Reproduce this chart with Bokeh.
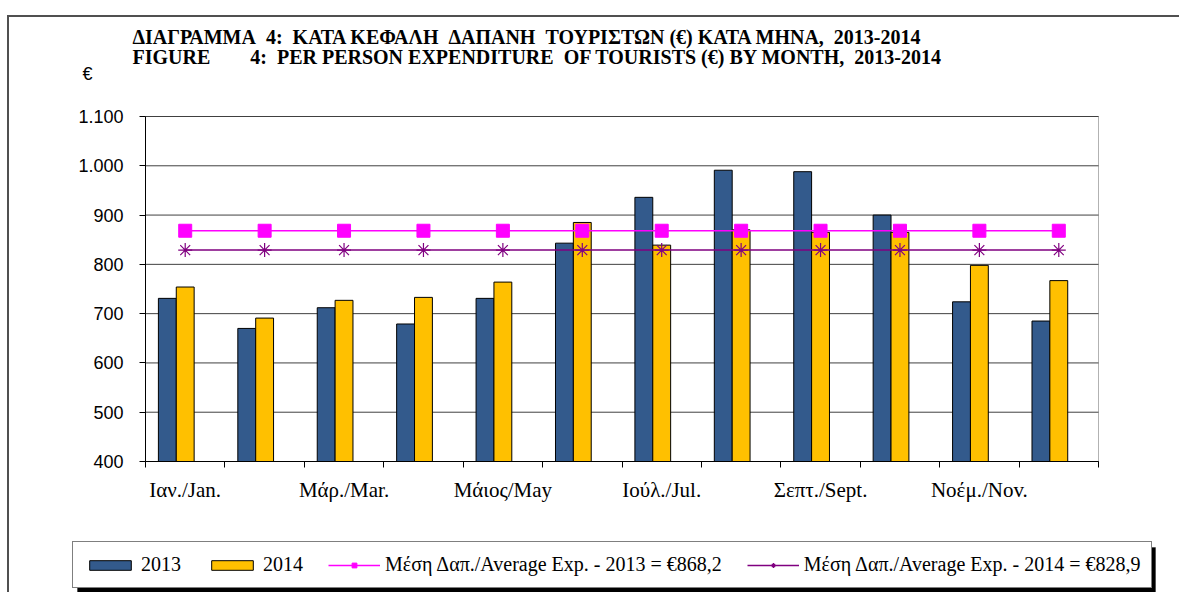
from bokeh.plotting import figure
from bokeh.models import (Legend, LegendItem, FixedTicker, Label, Range1d, ColumnDataSource,
                          BoxAnnotation)
from bokeh.embed import file_html
from bokeh.resources import INLINE

# ---------------- data ----------------
months = ["Ιαν./Jan.", "Φεβ./Feb.", "Μάρ./Mar.", "Απρ./Apr.", "Μάιος/May", "Ιούν./Jun.",
          "Ιούλ./Jul.", "Αύγ./Aug.", "Σεπτ./Sept.", "Οκτ./Oct.", "Νοέμ./Nov.", "Δεκ./Dec."]
exp_2013 = [731, 670, 712, 679, 731, 843, 936, 991, 988, 900, 724, 685]
exp_2014 = [754, 691, 727, 733, 764, 885, 839, 870, 865, 865, 798, 767]
avg_2013 = 868.2
avg_2014 = 828.9
y_ticks = [400, 500, 600, 700, 800, 900, 1000, 1100]

NB = "\u00a0"
title_gr = f"ΔΙΑΓΡΑΜΜΑ{NB}{NB}4:{NB}{NB}ΚΑΤΑ ΚΕΦΑΛΗ{NB}{NB}ΔΑΠΑΝΗ{NB}{NB}ΤΟΥΡΙΣΤΩΝ (€) ΚΑΤΑ ΜΗΝΑ,{NB}{NB}2013-2014"
title_en = f"FIGURE{NB * 8}4:{NB}{NB}PER PERSON EXPENDITURE{NB}{NB}OF TOURISTS (€) BY MONTH,{NB}{NB}2013-2014"
unit_label = "€"

# ---------------- geometry (page pixels) ----------------
CANVAS_X0, CANVAS_Y0 = 9, 17          # where the canvas starts (after css margin + border)
W, H = 1170, 575                      # canvas size
PA_L, PA_R, PA_T, PA_B = 145, 1098, 116, 461   # plot area in page pixels

BLUE = "#335A8C"
GOLD = "#FFC000"
PINK = "#FF00FF"
PURPLE = "#800080"
SERIF = "Liberation Serif"
SANS = "Liberation Sans"
bar_w = 0.225

n = len(months)
x_lo, x_hi = -0.5, n - 0.5
y_lo, y_hi = y_ticks[0], y_ticks[-1]
sx = (PA_R - PA_L) / (x_hi - x_lo)
sy = (PA_B - PA_T) / (y_hi - y_lo)


def X(px):   # page px -> data x
    return x_lo + (px - PA_L) / sx


def Y(py):   # page px -> data y
    return y_lo + (PA_B - py) / sy


idx = list(range(n))
src = ColumnDataSource(dict(
    x13=[i - bar_w for i in idx],
    x14=idx,
    v13=exp_2013,
    v14=exp_2014,
    x=idx,
    a13=[avg_2013] * n,
    a14=[avg_2014] * n,
))
grid_src = ColumnDataSource(dict(y=y_ticks, x0=[x_lo] * len(y_ticks), x1=[x_hi] * len(y_ticks)))

p = figure(frame_width=W, frame_height=H, output_backend="svg", toolbar_location=None,
           x_range=Range1d(X(CANVAS_X0), X(CANVAS_X0 + W)),
           y_range=Range1d(Y(CANVAS_Y0 + H), Y(CANVAS_Y0)),
           min_border=0, min_border_left=0, min_border_right=0,
           min_border_top=0, min_border_bottom=0)
p.styles = {"margin-left": "7px", "margin-top": "15px",
            "border-left": "2px solid #505050", "border-top": "2px solid #505050"}
p.background_fill_color = "white"
p.border_fill_color = "white"
p.outline_line_color = None
p.xgrid.visible = False
p.ygrid.visible = False

# gridlines of the plot area
p.segment(x0="x0", x1="x1", y0="y", y1="y", source=grid_src, line_color="#404040", line_width=1)

r13 = p.vbar(x="x13", top="v13", bottom=y_lo, width=bar_w, source=src,
             fill_color=BLUE, line_color="black", line_width=1)
r14 = p.vbar(x="x14", top="v14", bottom=y_lo, width=bar_w, source=src,
             fill_color=GOLD, line_color="black", line_width=1)

l13 = p.line(x="x", y="a13", source=src, line_color=PINK, line_width=1.5)
m13 = p.scatter(x="x", y="a13", source=src, marker="square", size=13,
                fill_color=PINK, line_color=PINK)
l14 = p.line(x="x", y="a14", source=src, line_color=PURPLE, line_width=1.5)
m14 = p.scatter(x="x", y="a14", source=src, marker="asterisk", size=14,
                line_color=PURPLE, line_width=1.2)

# plot-area border
p.add_layout(BoxAnnotation(left=x_lo, right=x_hi, bottom=y_lo, top=y_hi,
                           fill_alpha=0, line_color="black", line_width=1, level="underlay"))

# ---------------- axes (fixed inside the frame) ----------------
yax = p.yaxis[0]
yax.fixed_location = x_lo
yax.bounds = (y_lo, y_hi)
yax.ticker = FixedTicker(ticks=y_ticks)
yax.major_label_overrides = {t: f"{t:,}".replace(",", ".") for t in y_ticks}
yax.major_label_text_font = SANS
yax.major_label_text_font_size = "18px"
yax.major_label_text_color = "black"
yax.major_tick_out = 6
yax.major_tick_in = 0
yax.minor_tick_line_color = None
yax.axis_line_color = "black"
yax.major_label_standoff = 16

xax = p.xaxis[0]
xax.fixed_location = y_lo
xax.bounds = (x_lo, x_hi)
xax.ticker = FixedTicker(ticks=idx[::2], minor_ticks=[i - 0.5 for i in range(n + 1)])
xax.major_label_overrides = {i: months[i] for i in idx[::2]}
xax.major_label_text_font = SERIF
xax.major_label_text_font_size = "21px"
xax.major_label_text_color = "black"
xax.major_tick_out = 0
xax.major_tick_in = 0
xax.minor_tick_out = 6
xax.minor_tick_in = 0
xax.minor_tick_line_color = "black"
xax.axis_line_color = "black"
xax.major_label_standoff = 10

# ---------------- titles ----------------
for txt, px, py, size, font, style in [
    (title_gr, 132, 36, "20px", SERIF, "bold"),
    (title_en, 132, 56, "20px", SERIF, "bold"),
    (unit_label, 82, 73, "18px", SANS, "normal"),
]:
    p.add_layout(Label(x=X(px), y=Y(py), text=txt, text_font=font, text_font_size=size,
                       text_font_style=style, text_color="black",
                       text_baseline="middle", text_align="left"))

# ---------------- legend with drop shadow ----------------
LEG_L, LEG_R, LEG_T, LEG_B = 72, 1150, 542, 588
SH = 5
p.add_layout(BoxAnnotation(left=X(LEG_L + SH), right=X(LEG_R + SH),
                           top=Y(LEG_T + SH), bottom=Y(LEG_B + SH),
                           fill_color="black", fill_alpha=1, line_color="black"))


def fmt(v):
    return f"{v:.1f}".replace(".", ",")


legend = Legend(items=[
    LegendItem(label="2013", renderers=[r13]),
    LegendItem(label="2014", renderers=[r14]),
    LegendItem(label=f"Μέση Δαπ./Average Exp. - 2013 = €{fmt(avg_2013)}", renderers=[l13, m13]),
    LegendItem(label=f"Μέση Δαπ./Average Exp. - 2014 = €{fmt(avg_2014)}", renderers=[l14, m14]),
], orientation="horizontal",
    location=(LEG_L - CANVAS_X0, (CANVAS_Y0 + H) - LEG_B))
legend.label_text_font = SERIF
legend.label_text_font_size = "20px"
legend.label_text_color = "black"
legend.glyph_width = 52
legend.glyph_height = 12
legend.label_standoff = 5
legend.spacing = 25
legend.padding = 11
legend.margin = 0
legend.border_line_color = "black"
legend.border_line_width = 1
legend.background_fill_color = "white"
legend.background_fill_alpha = 1
p.add_layout(legend, "center")

open("out.html", "w").write(file_html(p, INLINE))
